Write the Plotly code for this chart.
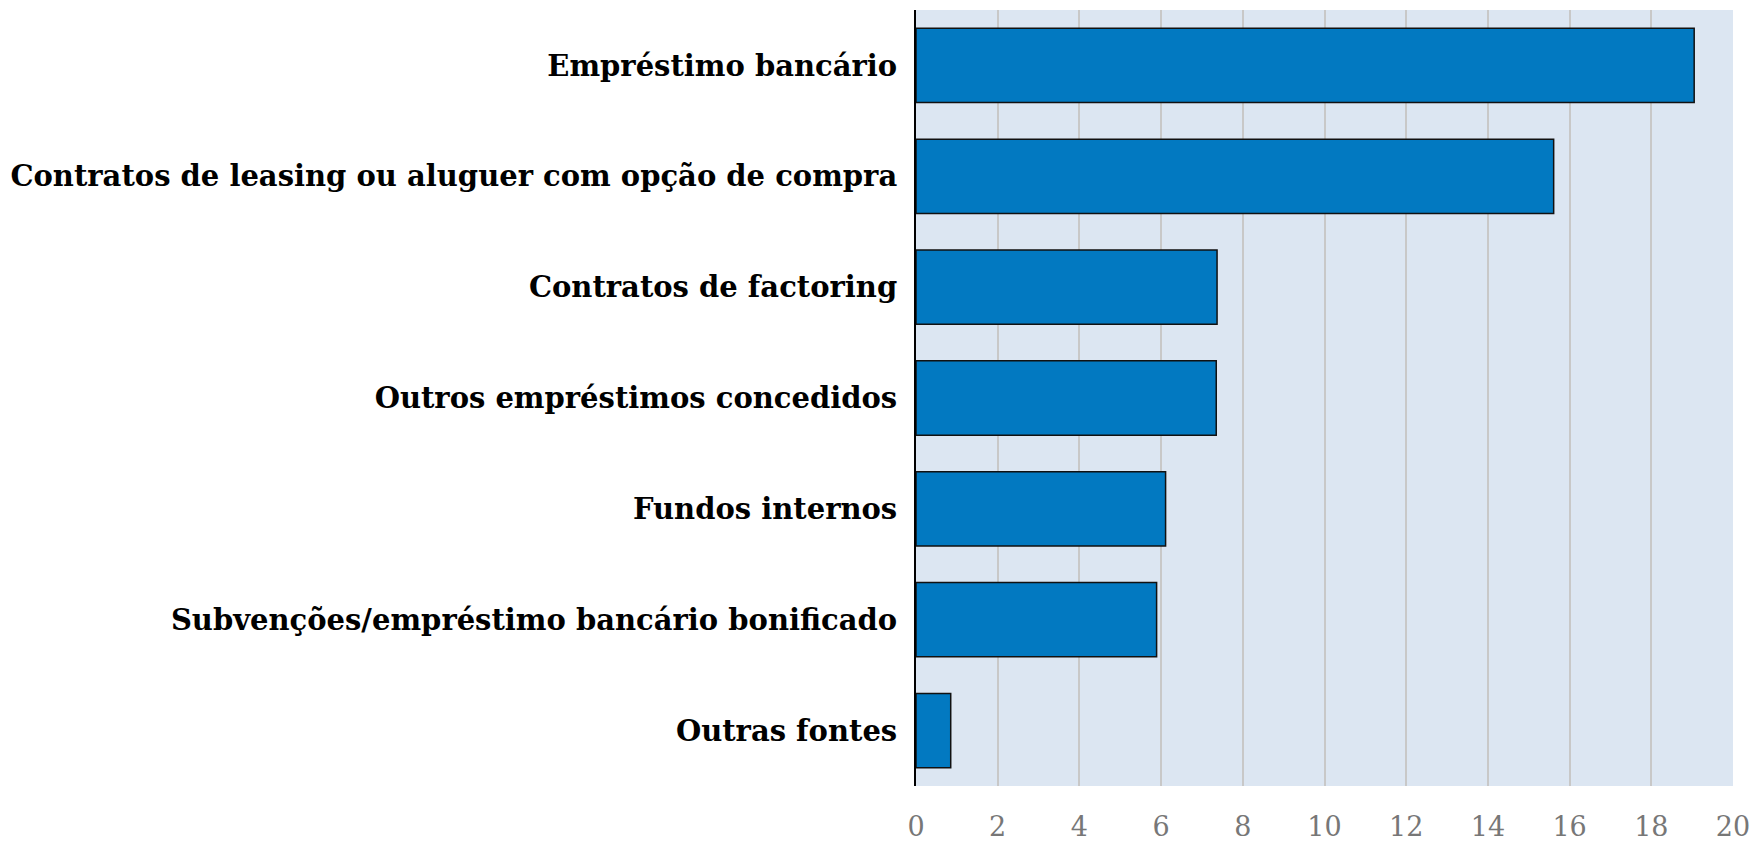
import plotly.graph_objects as go

# Fontes de financiamento
categorias = [
    "Empréstimo bancário",
    "Contratos de leasing ou aluguer com opção de compra",
    "Contratos de factoring",
    "Outros empréstimos concedidos",
    "Fundos internos",
    "Subvenções/empréstimo bancário bonificado",
    "Outras fontes",
]
valores = [19.05, 15.61, 7.37, 7.35, 6.11, 5.89, 0.85]
x_ticks = [0, 2, 4, 6, 8, 10, 12, 14, 16, 18, 20]

fig = go.Figure()
fig.add_trace(go.Bar(
    y=categorias,
    x=valores,
    orientation="h",
    marker=dict(color="#0279c1", line=dict(color="#111111", width=1.5)),
    hoverinfo="x+y",
))

# the page body adds an 8px margin, so the margins are shifted by that much
fig.update_layout(
    width=1756,
    height=833,
    margin=dict(l=908, r=31, t=2, b=55),
    plot_bgcolor="#dce6f2",
    paper_bgcolor="white",
    bargap=0.33,
    showlegend=False,
    font=dict(family="DejaVu Serif, Liberation Serif, serif"),
)
fig.update_xaxes(
    range=[0, 20],
    tickvals=x_ticks,
    showgrid=True,
    gridcolor="#c8c8c8",
    gridwidth=2,
    zeroline=False,
    showline=False,
    automargin=False,
    tickfont=dict(size=27, color="#777777", family="DejaVu Serif, serif"),
    ticklabelstandoff=22,
)
fig.update_yaxes(
    autorange="reversed",
    showline=True,
    linecolor="black",
    linewidth=2,
    showgrid=False,
    automargin=False,
    tickfont=dict(size=29, color="black", family="DejaVu Serif, serif", weight="bold"),
    ticklabelstandoff=11,
)

fig.write_html("out.html")
